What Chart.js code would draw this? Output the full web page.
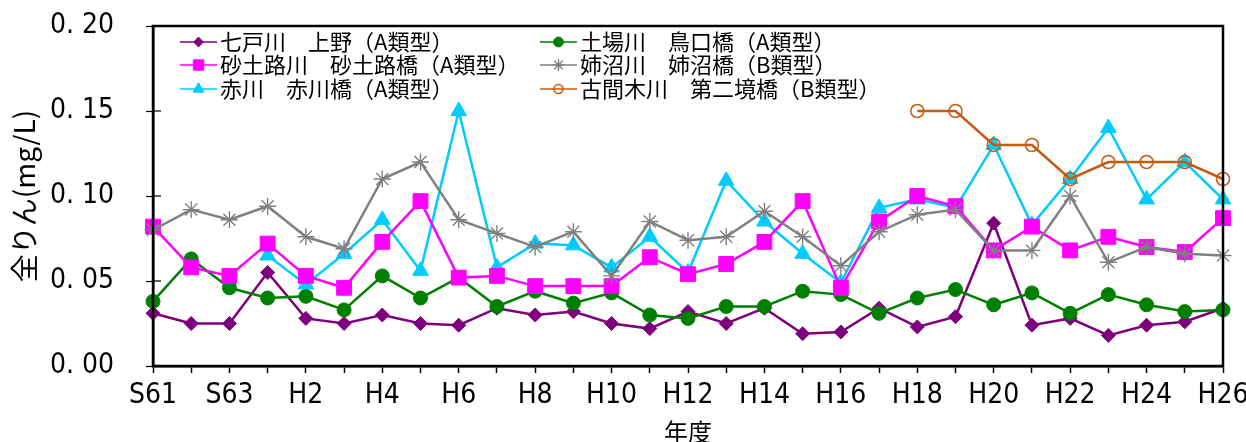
<!DOCTYPE html>
<html>
<head>
<meta charset="utf-8">
<script src="https://cdn.jsdelivr.net/npm/chart.js"></script>
<style>
  body { margin: 0; background: #fff; }
  #container { width: 1246px; height: 442px; }
</style>
</head>
<body>
<div id="container"><canvas id="myChart"></canvas></div>
<script>
var years = ['S61', 'S62', 'S63', 'H1', 'H2', 'H3', 'H4', 'H5', 'H6', 'H7', 'H8', 'H9', 'H10', 'H11',
  'H12', 'H13', 'H14', 'H15', 'H16', 'H17', 'H18', 'H19', 'H20', 'H21', 'H22', 'H23', 'H24', 'H25', 'H26'];

var shichinohe = [0.031, 0.025, 0.025, 0.055, 0.028, 0.025, 0.030, 0.025, 0.024, 0.034, 0.030, 0.032, 0.025, 0.022,
  0.032, 0.025, 0.034, 0.019, 0.020, 0.034, 0.023, 0.029, 0.084, 0.024, 0.028, 0.018, 0.024, 0.026, 0.034];
var doba = [0.038, 0.063, 0.046, 0.040, 0.041, 0.033, 0.053, 0.040, 0.052, 0.035, 0.044, 0.037, 0.043, 0.030,
  0.028, 0.035, 0.035, 0.044, 0.042, 0.031, 0.040, 0.045, 0.036, 0.043, 0.031, 0.042, 0.036, 0.032, 0.033];
var sadoro = [0.082, 0.058, 0.053, 0.072, 0.053, 0.046, 0.073, 0.097, 0.052, 0.053, 0.047, 0.047, 0.047, 0.064,
  0.054, 0.060, 0.073, 0.097, 0.046, 0.085, 0.100, 0.094, 0.068, 0.082, 0.068, 0.076, 0.070, 0.067, 0.087];
var anenuma = [0.080, 0.092, 0.086, 0.094, 0.076, 0.069, 0.110, 0.120, 0.086, 0.078, 0.070, 0.079, 0.053, 0.085,
  0.074, 0.076, 0.091, 0.076, 0.059, 0.079, 0.089, 0.092, 0.068, 0.068, 0.100, 0.061, 0.070, 0.066, 0.065];
var akagawa = [null, null, null, 0.065, 0.048, 0.066, 0.086, 0.056, 0.150, 0.058, 0.072, 0.071, 0.058, 0.076,
  0.055, 0.109, 0.085, 0.066, 0.049, 0.093, 0.098, 0.093, 0.130, 0.083, 0.110, 0.140, 0.098, 0.120, 0.098];
var furumaki = [null, null, null, null, null, null, null, null, null, null, null, null, null, null,
  null, null, null, null, null, null, 0.150, 0.150, 0.130, 0.130, 0.110, 0.120, 0.120, 0.120, 0.110];

var yTicks = [0, 0.05, 0.10, 0.15, 0.20];

var gothic = "'Liberation Sans Narrow', 'DejaVu Sans Condensed', sans-serif";
var cjk = "'Noto Sans CJK JP', sans-serif";

function series(label, data, color, style, radius, order, hollow) {
  return {
    label: label,
    data: data,
    borderColor: color,
    backgroundColor: hollow ? 'rgba(0,0,0,0)' : color,
    pointBackgroundColor: hollow ? 'rgba(0,0,0,0)' : color,
    pointBorderColor: color,
    pointBorderWidth: hollow ? 1.5 : (style == 'star' ? 1.4 : 1),
    borderWidth: 2.5,
    pointStyle: style,
    pointRadius: radius,
    pointHoverRadius: radius,
    tension: 0,
    order: order
  };
}

var datasets = [
  series('七戸川　上野（A類型）', shichinohe, '#7f007f', 'rectRot', 7, 5),
  series('砂土路川　砂土路橋（A類型）', sadoro, '#ff00ff', 'rect', 10.5, 2),
  series('赤川　赤川橋（A類型）', akagawa, '#00ccff', 'triangle', 9, 3),
  series('土場川　鳥口橋（A類型）', doba, '#008000', 'circle', 7, 4),
  series('姉沼川　姉沼橋（B類型）', anenuma, '#808080', 'star', 8.5, 1),
  series('古間木川　第二境橋（B類型）', furumaki, '#c55a11', 'circle', 6.5, 0, true)
];

// box around the plot, inner tick marks on the value axis, and the two-column legend
var framePlugin = {
  id: 'frame',
  afterDatasetsDraw: function (chart) {
    var ctx = chart.ctx;
    var a = chart.chartArea;
    var y = chart.scales.y;
    ctx.save();
    ctx.strokeStyle = '#000';
    ctx.lineWidth = 2.5;
    ctx.strokeRect(a.left, a.top, a.right - a.left, a.bottom - a.top);
    ctx.lineWidth = 1.2;
    for (var i = 0; i < yTicks.length; i++) {
      var py = y.getPixelForValue(yTicks[i]);
      ctx.beginPath();
      ctx.moveTo(a.left, py);
      ctx.lineTo(a.left + 8, py);
      ctx.stroke();
    }

    var cols = [a.left + 27, a.left + 387];
    var rows = [42, 65, 89];
    ctx.font = '22px ' + cjk;
    ctx.textBaseline = 'middle';
    ctx.textAlign = 'left';
    for (var k = 0; k < chart.data.datasets.length; k++) {
      var ds = chart.data.datasets[k];
      var lx = cols[Math.floor(k / 3)];
      var ly = rows[k % 3];
      ctx.strokeStyle = ds.borderColor;
      ctx.lineWidth = 1.5;
      ctx.beginPath();
      ctx.moveTo(lx, ly);
      ctx.lineTo(lx + 37, ly);
      ctx.stroke();
      // drawPoint fills and strokes with the current styles
      ctx.fillStyle = ds.pointBackgroundColor;
      ctx.strokeStyle = ds.pointBorderColor;
      ctx.lineWidth = ds.pointBorderWidth;
      Chart.helpers.drawPoint(ctx, {
        pointStyle: ds.pointStyle,
        radius: ds.pointRadius * 0.7,
        borderWidth: ds.pointBorderWidth
      }, lx + 18.5, ly);
      ctx.fillStyle = '#000';
      ctx.fillText(ds.label, lx + 40, ly);
    }
    ctx.restore();
  }
};

var config = {
  type: 'line',
  data: { labels: years, datasets: datasets },
  options: {
    responsive: true,
    maintainAspectRatio: false,
    animation: false,
    layout: { padding: { left: 0, right: 23, top: 26, bottom: 0 } },
    plugins: { legend: { display: false }, tooltip: { enabled: false } },
    scales: {
      x: {
        type: 'category',
        offset: false,
        grid: { drawOnChartArea: false, drawTicks: true, tickLength: 7, tickColor: '#000', tickWidth: 1.5 },
        border: { display: true, color: '#000', width: 2.5 },
        ticks: {
          autoSkip: false,
          maxRotation: 0,
          padding: 6,
          color: '#000',
          font: { family: gothic, size: 28 },
          callback: function (val, idx) { return idx % 2 == 0 ? years[idx] : ''; }
        },
        title: { display: true, text: '年度', color: '#000', font: { family: cjk, size: 24 }, padding: { top: 0, bottom: -4 } },
        afterFit: function (scale) {
          scale.height = 76;
          scale.paddingLeft = 0;
          scale.paddingRight = 0;
        }
      },
      y: {
        min: 0,
        max: 0.2,
        grid: { drawOnChartArea: false, drawTicks: true, tickLength: 7, tickColor: '#000', tickWidth: 1.2 },
        border: { display: true, color: '#000', width: 2.5 },
        afterBuildTicks: function (scale) {
          scale.ticks = yTicks.map(function (v) { return { value: v }; });
        },
        ticks: {
          padding: 32,
          color: '#000',
          font: { family: gothic, size: 28 },
          callback: function (val) { return val.toFixed(2).replace('.', '. '); }
        },
        title: { display: true, text: '全りん(mg/L)', color: '#000', font: { family: cjk, size: 28 }, padding: { top: 8, bottom: 0 } },
        afterFit: function (scale) {
          scale.width = 153;
          scale.paddingTop = 0;
          scale.paddingBottom = 0;
        }
      }
    }
  },
  plugins: [framePlugin]
};

var myChart = new Chart(document.getElementById('myChart').getContext('2d'), config);
</script>
</body>
</html>
